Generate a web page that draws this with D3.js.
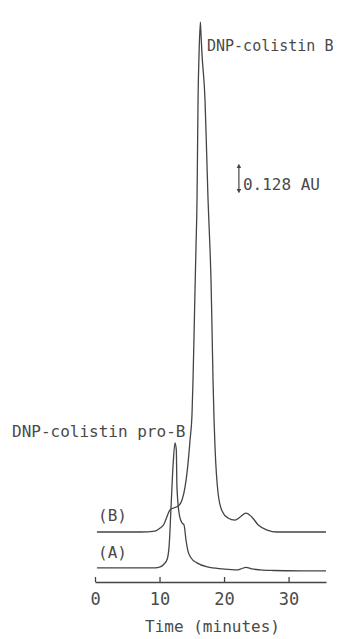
<!DOCTYPE html>
<meta charset="utf-8">
<style>
    body { margin: 0; background: #fff; }
    text { font-family: "DejaVu Sans Mono", "Liberation Mono", monospace; fill: #4a4a4a; }
    .trace { fill: none; stroke: #444; stroke-width: 1.3; }
</style>
<body>

<script src="https://d3js.org/d3.v7.min.js"></script>
<script>
    // trace (A): time in minutes, absorbance in AU
    var timeA = [0.3, 9.3, 10.1, 10.7, 11.2, 11.5, 11.8, 12.1, 12.4, 12.6, 12.7, 13.1, 13.5, 13.8, 14.1, 14.4, 14.9, 15.8, 17.4, 19.8, 22.0, 22.6, 23.4, 24.3, 25.6, 27.6, 31.8, 35.8];
    var absA  = [0, 0, 0.005, 0.020, 0.046, 0.118, 0.323, 0.527, 0.640, 0.604, 0.415, 0.266, 0.230, 0.220, 0.143, 0.087, 0.051, 0.026, 0.005, -0.005, -0.010, -0.005, 0.003, -0.005, -0.010, -0.013, -0.015, -0.015];

    // trace (B), drawn above (A) by offsetB
    var timeB = [0.3, 7.0, 9.3, 10.1, 10.7, 11.2, 11.6, 12.2, 12.9, 13.49, 13.95, 14.42, 14.73, 15.04, 15.19, 15.35, 15.50, 15.66, 15.81, 15.89, 15.97, 16.12, 16.33, 16.43, 16.59, 17.05, 17.29, 17.52, 17.83, 17.98, 18.14, 18.29, 18.45, 18.60, 19.07, 19.69, 20.6, 21.7, 22.5, 23.4, 24.3, 25.3, 26.7, 28.2, 35.8];
    var absB  = [0, 0, 0.005, 0.020, 0.041, 0.082, 0.113, 0.123, 0.133, 0.164, 0.230, 0.353, 0.471, 0.609, 0.778, 1.009, 1.239, 1.469, 1.700, 1.956, 2.212, 2.442, 2.611, 2.545, 2.442, 2.212, 1.956, 1.700, 1.444, 1.290, 1.034, 0.778, 0.573, 0.435, 0.200, 0.108, 0.072, 0.061, 0.077, 0.097, 0.077, 0.036, 0.010, 0, 0];
    var offsetB = 0.184;

    var xTicks = [0, 10, 20, 30];
    var xMax = 35.8;

    // scale bar
    var barAU = 0.128, barTime = 22.3, barBase = 1.93;

    var width = 341, height = 639;

    var svg = d3.select("body").append("svg")
        .attr("width", width)
        .attr("height", height)
        .style("background", "#fff");

    var x = d3.scaleLinear().domain([0, xMax]).range([95, 326]);
    var y = d3.scaleLinear().domain([-0.072, 2.857]).range([582, 10]);

    // time axis, ticks pointing up
    var axis = svg.append("g")
        .attr("transform", "translate(0,582)")
        .call(d3.axisBottom(x).tickValues(xTicks).tickSizeInner(-5).tickSizeOuter(0).tickPadding(11));
    axis.select(".domain").attr("stroke", "#444").attr("stroke-width", 1.3);
    axis.selectAll(".tick line").attr("stroke", "#444").attr("stroke-width", 1.3);
    axis.selectAll(".tick text")
        .style("font-family", "'DejaVu Sans Mono', monospace")
        .style("font-size", "17px")
        .attr("fill", "#4a4a4a");

    svg.append("text")
        .attr("x", 212.5)
        .attr("y", 632)
        .attr("text-anchor", "middle")
        .style("font-size", "16px")
        .text("Time (minutes)");

    var line = d3.line()
        .x(d => x(d[0]))
        .y(d => y(d[1]))
        .curve(d3.curveMonotoneX);

    var traceA = timeA.map((t, i) => [t, absA[i]]);
    var traceB = timeB.map((t, i) => [t, absB[i] + offsetB]);

    svg.append("path").datum(traceA).attr("class", "trace").attr("d", line);
    svg.append("path").datum(traceB).attr("class", "trace").attr("d", line);

    // trace labels
    svg.append("text").attr("x", 98).attr("y", 521).style("font-size", "16px").text("(B)");
    svg.append("text").attr("x", 98).attr("y", 558).style("font-size", "16px").text("(A)");

    // peak labels
    svg.append("text").attr("x", 207).attr("y", 51).style("font-size", "15px").text("DNP-colistin B");
    svg.append("text").attr("x", 12).attr("y", 437).style("font-size", "16px").text("DNP-colistin pro-B");

    // scale bar
    var defs = svg.append("defs");
    defs.append("marker")
        .attr("id", "head")
        .attr("viewBox", "0 0 6 6")
        .attr("refX", 3).attr("refY", 3)
        .attr("markerWidth", 4).attr("markerHeight", 4)
        .attr("orient", "auto-start-reverse")
        .append("path").attr("d", "M0,0L6,3L0,6Z").attr("fill", "#444");

    svg.append("line")
        .attr("x1", x(barTime)).attr("x2", x(barTime))
        .attr("y1", y(barBase)).attr("y2", y(barBase + barAU))
        .attr("stroke", "#444").attr("stroke-width", 1.2)
        .attr("marker-start", "url(#head)")
        .attr("marker-end", "url(#head)");

    svg.append("text")
        .attr("x", x(barTime) + 4)
        .attr("y", 190)
        .style("font-size", "16px")
        .text("0.128 AU");
</script>

</body>
</html>
